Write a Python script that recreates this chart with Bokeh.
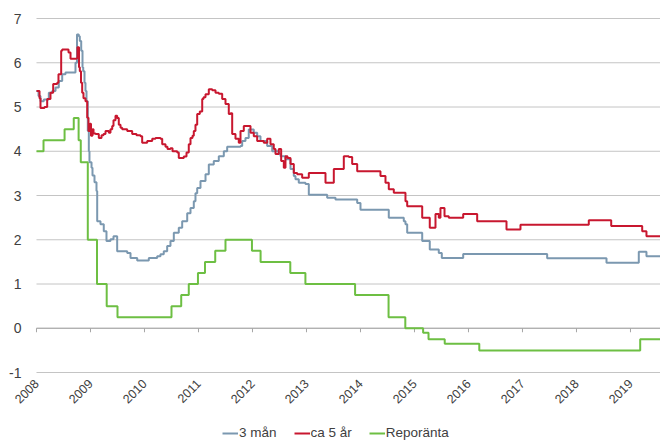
from bokeh.plotting import figure
from bokeh.models import Range1d, Legend, LegendItem
from bokeh.embed import file_html
from bokeh.resources import INLINE
from bokeh.core.properties import value
import math

# Decimal-year breakpoints and rates (%), held until the next breakpoint
t_3man = [2008.000, 2008.037, 2008.074, 2008.135, 2008.228, 2008.291, 2008.352, 2008.413,
          2008.476, 2008.537, 2008.722, 2008.750, 2008.783, 2008.802, 2008.828, 2008.852,
          2008.865, 2008.889, 2008.907, 2008.926, 2008.950, 2008.969, 2008.981, 2009.019,
          2009.037, 2009.074, 2009.111, 2009.124, 2009.185, 2009.246, 2009.296, 2009.370,
          2009.426, 2009.494, 2009.680, 2009.741, 2009.865, 2010.080, 2010.235, 2010.296,
          2010.357, 2010.420, 2010.481, 2010.543, 2010.635, 2010.698, 2010.791, 2010.852,
          2010.913, 2010.944, 2010.976, 2011.037, 2011.130, 2011.191, 2011.283, 2011.376,
          2011.469, 2011.531, 2011.778, 2011.809, 2011.870, 2011.931, 2012.024, 2012.087,
          2012.148, 2012.272, 2012.365, 2012.487, 2012.519, 2012.611, 2012.704, 2012.765,
          2012.796, 2012.857, 2012.981, 2013.043, 2013.383, 2013.537, 2013.939, 2014.000,
          2014.524, 2014.802, 2014.833, 2014.865, 2015.143, 2015.283, 2015.450, 2015.506,
          2015.902, 2017.457, 2018.556, 2019.154, 2019.296, 2019.556]
v_3man = [5.36, 5.25, 5.13, 5.17, 5.32, 5.36, 5.44, 5.59,
          5.74, 5.78, 6.00, 6.64, 6.60, 6.49, 6.27, 5.90,
          5.81, 5.55, 5.36, 5.13, 4.46, 4.00, 3.75, 3.63,
          3.45, 3.30, 3.10, 2.42, 2.35, 2.19, 1.97, 2.01,
          2.08, 1.74, 1.70, 1.59, 1.53, 1.59, 1.63, 1.67,
          1.74, 1.86, 1.97, 2.16, 2.27, 2.42, 2.60, 2.72,
          2.87, 3.05, 3.17, 3.33, 3.48, 3.70, 3.78, 3.89,
          4.00, 4.10, 4.12, 4.23, 4.30, 4.49, 4.42, 4.34,
          4.23, 4.12, 4.00, 3.94, 3.89, 3.82, 3.60, 3.44,
          3.37, 3.29, 3.26, 3.02, 2.95, 2.91, 2.83, 2.68,
          2.50, 2.42, 2.35, 2.16, 1.97, 1.78, 1.70, 1.59,
          1.68, 1.58, 1.48, 1.73, 1.63, 1.63]

t_5ar = [2008.000, 2008.056, 2008.074, 2008.148, 2008.198, 2008.259, 2008.309, 2008.383,
         2008.407, 2008.457, 2008.476, 2008.593, 2008.630, 2008.741, 2008.759, 2008.787,
         2008.802, 2008.824, 2008.846, 2008.870, 2008.907, 2008.939, 2008.963, 2008.991,
         2009.009, 2009.037, 2009.056, 2009.093, 2009.154, 2009.204, 2009.241, 2009.278,
         2009.339, 2009.370, 2009.402, 2009.426, 2009.463, 2009.494, 2009.524, 2009.556,
         2009.587, 2009.680, 2009.772, 2009.852, 2009.926, 2009.957, 2010.050, 2010.143,
         2010.204, 2010.296, 2010.328, 2010.389, 2010.426, 2010.481, 2010.519, 2010.606,
         2010.635, 2010.728, 2010.778, 2010.820, 2010.852, 2010.889, 2010.913, 2010.944,
         2010.976, 2011.024, 2011.069, 2011.093, 2011.130, 2011.191, 2011.254, 2011.315,
         2011.376, 2011.439, 2011.500, 2011.561, 2011.593, 2011.624, 2011.685, 2011.746,
         2011.778, 2011.839, 2011.963, 2012.024, 2012.087, 2012.209, 2012.272, 2012.333,
         2012.394, 2012.426, 2012.487, 2012.531, 2012.580, 2012.611, 2012.648, 2012.704,
         2012.765, 2012.828, 2012.920, 2013.043, 2013.352, 2013.506, 2013.691, 2013.783,
         2013.846, 2013.939, 2014.370, 2014.463, 2014.524, 2014.617, 2014.833, 2014.865,
         2015.143, 2015.283, 2015.389, 2015.450, 2015.481, 2015.556, 2015.635, 2015.902,
         2016.161, 2016.704, 2016.963, 2018.228, 2018.643, 2019.217, 2019.296, 2019.556]
v_5ar = [5.36, 5.20, 4.98, 5.00, 5.18, 5.32, 5.52, 5.55,
         5.74, 6.27, 6.30, 6.23, 6.09, 6.10, 6.35, 5.90,
         5.81, 5.55, 5.32, 5.20, 5.13, 4.76, 4.46, 4.62,
         4.35, 4.50, 4.40, 4.39, 4.30, 4.36, 4.39, 4.46,
         4.42, 4.50, 4.57, 4.70, 4.80, 4.75, 4.60, 4.53,
         4.50, 4.46, 4.39, 4.36, 4.34, 4.19, 4.23, 4.28,
         4.30, 4.28, 4.16, 4.10, 4.05, 4.07, 4.00, 3.97,
         3.85, 3.88, 3.97, 4.16, 4.30, 4.35, 4.46, 4.60,
         4.84, 4.90, 5.18, 5.22, 5.29, 5.40, 5.38, 5.32,
         5.30, 5.18, 5.07, 4.84, 4.86, 4.39, 4.28, 4.19,
         4.46, 4.57, 4.42, 4.34, 4.23, 4.19, 4.28, 4.16,
         4.05, 3.94, 4.05, 3.78, 3.63, 3.89, 3.85, 3.71,
         3.51, 3.48, 3.40, 3.51, 3.29, 3.60, 3.89, 3.87,
         3.71, 3.55, 3.44, 3.29, 3.14, 3.06, 2.87, 2.76,
         2.50, 2.27, 2.58, 2.50, 2.72, 2.53, 2.50, 2.58,
         2.42, 2.23, 2.34, 2.44, 2.31, 2.19, 2.08, 2.08]

t_repo = [2008.000, 2008.13, 2008.52, 2008.69, 2008.78, 2008.82, 2008.95, 2009.12,
          2009.30, 2009.50, 2010.50, 2010.68, 2010.82, 2010.99, 2011.12, 2011.31,
          2011.50, 2011.99, 2012.15, 2012.70, 2012.98, 2013.90, 2014.52, 2014.83,
          2015.16, 2015.26, 2015.56, 2016.20, 2019.18, 2019.556]
v_repo = [4.00, 4.25, 4.50, 4.75, 4.25, 3.75, 2.00, 1.00,
          0.50, 0.25, 0.50, 0.75, 1.00, 1.25, 1.50, 1.75,
          2.00, 1.75, 1.50, 1.25, 1.00, 0.75, 0.25, 0.00,
          -0.10, -0.25, -0.35, -0.50, -0.25, -0.25]

years = list(range(2008, 2020))
year_labels = [str(y) for y in years]
y_ticks = list(range(-1, 8))
y_labels = [str(v) for v in y_ticks]

series_names = ["3 mån", "ca 5 år", "Reporänta"]
series_colors = ["#7b98b0", "#c8172f", "#6dbf43"]

FONT = "Liberation Sans"
TEXT_COLOR = "#404040"

# The frame covers the whole canvas; value labels, rotated year labels and
# the legend are drawn inside it around the gridded area.
X_START, X_END = 2008.0, 2019.556
PX_PER_YEAR = 54.0
Y_TOP, Y_BOTTOM = 7.407, -2.559
FRAME_H = 441
p = figure(
    frame_width=660, frame_height=FRAME_H,
    x_range=Range1d(X_START - 36 / PX_PER_YEAR, X_END), y_range=Range1d(Y_BOTTOM, Y_TOP),
    output_backend="svg", toolbar_location=None,
    min_border_left=0, min_border_right=0, min_border_top=0, min_border_bottom=0,
)
p.outline_line_color = None
p.background_fill_color = "white"
p.border_fill_color = "white"
p.xaxis.visible = False
p.yaxis.visible = False
p.xgrid.visible = False
p.ygrid.visible = False
px_per_unit = FRAME_H / (Y_TOP - Y_BOTTOM)

# horizontal gridlines, starting at the first year
p.segment(x0=[X_START] * len(y_ticks), y0=y_ticks, x1=[X_END] * len(y_ticks), y1=y_ticks,
          line_color="#c4c4c4", line_width=1)

# value labels left of the gridlines
p.text(x=[X_START] * len(y_ticks), y=y_ticks, text=y_labels,
       text_align="right", text_baseline="middle", x_offset=-15,
       text_font=value(FONT), text_font_size="14px", text_color=TEXT_COLOR)

# zero line with downward tick marks at each year
p.segment(x0=[X_START], y0=[0], x1=[X_END], y1=[0], line_color="#a6a6a6", line_width=1)
tick_len = 4 / px_per_unit
p.segment(x0=years, y0=[0] * len(years), x1=years, y1=[-tick_len] * len(years),
          line_color="#a6a6a6", line_width=1)

# rotated year labels under the lowest gridline
p.text(x=years, y=[y_ticks[0]] * len(years), text=year_labels,
       angle=math.pi / 4, text_align="right", text_baseline="middle",
       x_offset=0, y_offset=9,
       text_font=value(FONT), text_font_size="12.5px", text_color=TEXT_COLOR)

renderers = []
for t, v, color in zip([t_3man, t_5ar, t_repo], [v_3man, v_5ar, v_repo], series_colors):
    r = p.step(t, v, mode="after", line_color=color, line_width=2)
    renderers.append(r)

legend = Legend(
    items=[LegendItem(label=n, renderers=[r]) for n, r in zip(series_names, renderers)],
    orientation="horizontal", location=(222, 1),
    border_line_color=None, background_fill_alpha=0,
    label_text_font=FONT, label_text_font_size="13.5px", label_text_color=TEXT_COLOR,
    glyph_width=16, glyph_height=12, label_standoff=1, spacing=17,
    padding=0, margin=0,
)
p.add_layout(legend, "center")

open("out.html", "w").write(file_html(p, INLINE))
